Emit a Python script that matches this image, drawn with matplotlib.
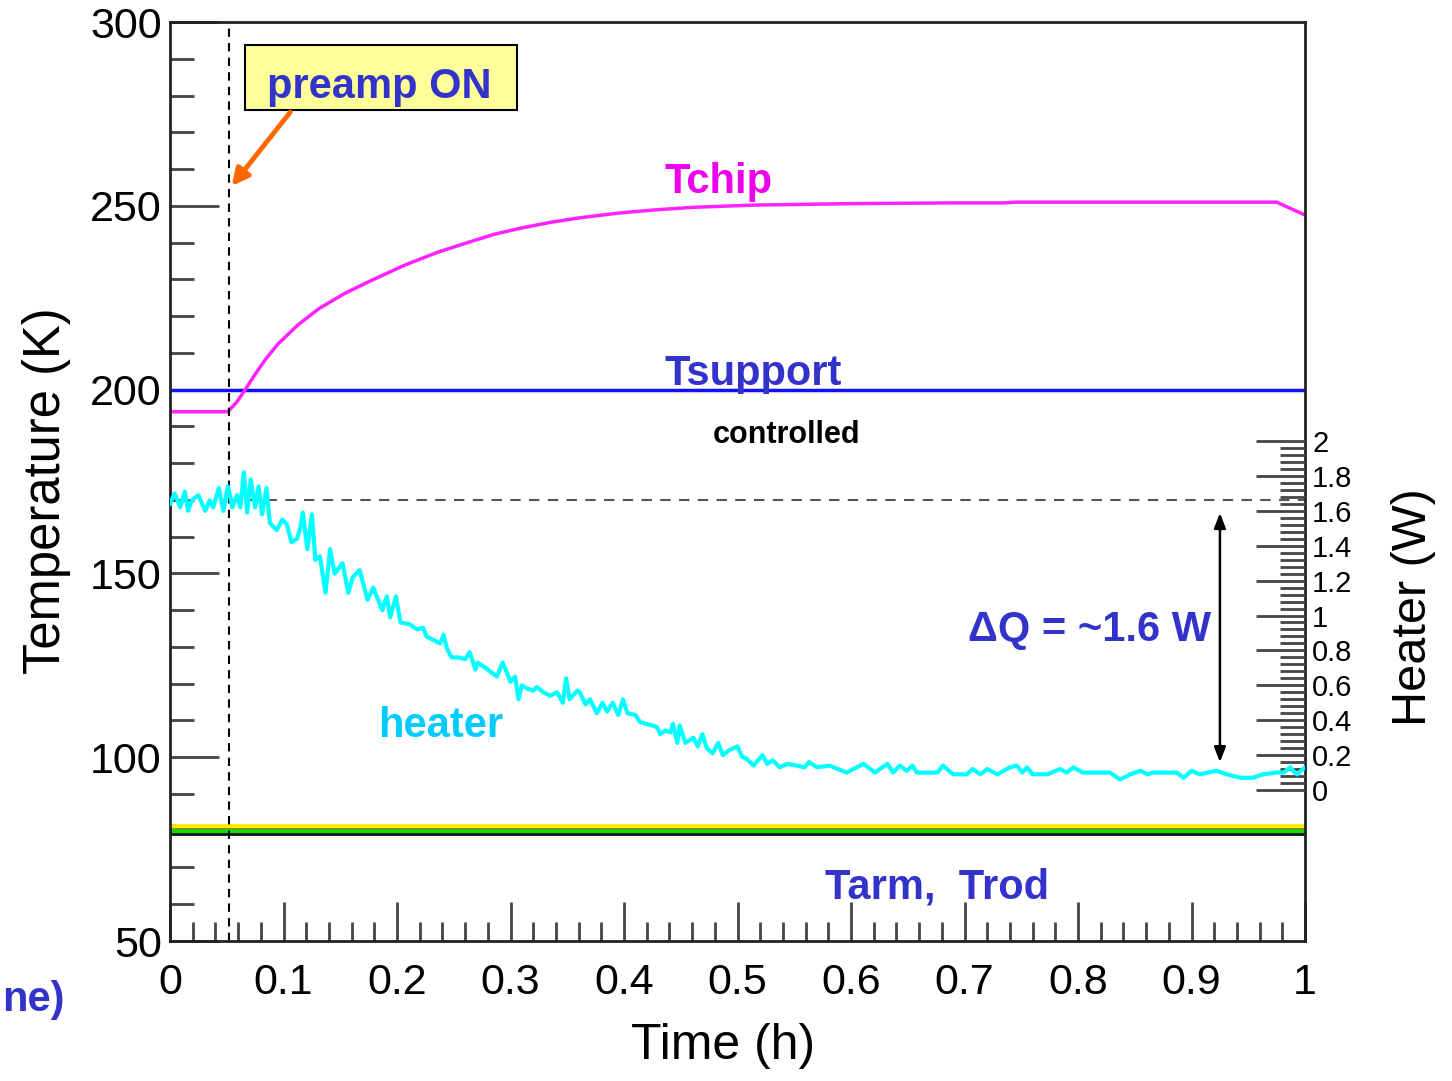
import matplotlib
matplotlib.use("Agg")
import matplotlib.pyplot as plt
from matplotlib.patches import Rectangle
from matplotlib.ticker import MultipleLocator, FixedLocator, FuncFormatter

plt.rcParams["font.family"] = ["Liberation Sans", "DejaVu Sans"]

# --- data ---
# Tchip (K)
tchip_t = [0.0, 0.051, 0.059, 0.066, 0.075, 0.084, 0.095, 0.113, 0.131, 0.154,
           0.178, 0.207, 0.236, 0.260, 0.286, 0.310, 0.335, 0.360, 0.394, 0.427,
           0.461, 0.514, 0.600, 0.690, 0.735, 0.745, 0.850, 0.975, 1.0]
tchip_k = [194.0, 194.0, 196.7, 199.9, 204.2, 208.2, 212.4, 217.7, 222.0, 226.2,
           229.8, 233.9, 237.4, 239.8, 242.3, 244.0, 245.5, 246.7, 248.0, 248.9,
           249.6, 250.2, 250.6, 250.8, 250.8, 251.0, 251.0, 251.0, 247.5]

# Tsupport (K), controlled
tsup_t = [0.0, 1.0]
tsup_k = [200.0, 200.0]

# Tarm / Trod (K)
tarm_t = [0.0, 1.0]
tarm_yellow = [81.2, 81.2]
tarm_red = [80.4, 80.4]
trod_green = [79.8, 79.8]
trod_black = [79.2, 79.2]

# heater power (W)
heater_t = [0.0, 0.004, 0.009, 0.013, 0.016, 0.019, 0.025, 0.031, 0.035, 0.038,
            0.043, 0.047, 0.051, 0.055, 0.059, 0.062, 0.065, 0.068, 0.071, 0.075,
            0.078, 0.081, 0.085, 0.088, 0.094, 0.099, 0.103, 0.107, 0.112, 0.115,
            0.117, 0.121, 0.125, 0.128, 0.132, 0.137, 0.141, 0.145, 0.152, 0.157,
            0.161, 0.167, 0.174, 0.179, 0.187, 0.191, 0.194, 0.199, 0.203, 0.211,
            0.218, 0.223, 0.226, 0.235, 0.238, 0.241, 0.244, 0.248, 0.254, 0.260,
            0.264, 0.269, 0.271, 0.278, 0.284, 0.288, 0.293, 0.297, 0.300, 0.304,
            0.307, 0.310, 0.315, 0.320, 0.323, 0.329, 0.335, 0.341, 0.346, 0.349,
            0.352, 0.359, 0.361, 0.366, 0.370, 0.376, 0.381, 0.385, 0.390, 0.395,
            0.399, 0.403, 0.410, 0.414, 0.419, 0.425, 0.429, 0.432, 0.436, 0.441,
            0.443, 0.447, 0.449, 0.454, 0.461, 0.465, 0.469, 0.473, 0.478, 0.483,
            0.487, 0.493, 0.500, 0.504, 0.508, 0.514, 0.522, 0.526, 0.531, 0.537,
            0.544, 0.552, 0.559, 0.563, 0.570, 0.581, 0.596, 0.611, 0.621, 0.632,
            0.637, 0.643, 0.649, 0.654, 0.658, 0.667, 0.676, 0.681, 0.690, 0.702,
            0.707, 0.714, 0.720, 0.729, 0.740, 0.746, 0.751, 0.755, 0.760, 0.773,
            0.784, 0.790, 0.796, 0.804, 0.819, 0.828, 0.837, 0.846, 0.855, 0.861,
            0.866, 0.878, 0.887, 0.893, 0.900, 0.907, 0.914, 0.922, 0.931, 0.943,
            0.954, 0.963, 0.975, 0.981, 0.987, 0.991, 0.993, 1.0]
heater_w = [1.64, 1.70, 1.62, 1.71, 1.60, 1.66, 1.69, 1.60, 1.66, 1.62,
            1.73, 1.60, 1.74, 1.62, 1.69, 1.62, 1.82, 1.59, 1.78, 1.62,
            1.74, 1.58, 1.73, 1.53, 1.49, 1.55, 1.52, 1.42, 1.44, 1.51,
            1.59, 1.38, 1.58, 1.32, 1.34, 1.13, 1.38, 1.24, 1.30, 1.13,
            1.22, 1.26, 1.09, 1.16, 1.03, 1.11, 0.99, 1.11, 0.96, 0.95,
            0.92, 0.93, 0.88, 0.85, 0.84, 0.89, 0.81, 0.76, 0.76, 0.75,
            0.79, 0.69, 0.73, 0.70, 0.67, 0.65, 0.73, 0.67, 0.62, 0.65,
            0.52, 0.60, 0.58, 0.57, 0.59, 0.56, 0.54, 0.56, 0.50, 0.64,
            0.52, 0.57, 0.56, 0.49, 0.52, 0.44, 0.50, 0.45, 0.50, 0.43,
            0.52, 0.44, 0.43, 0.39, 0.38, 0.37, 0.36, 0.32, 0.34, 0.33,
            0.38, 0.27, 0.37, 0.27, 0.30, 0.25, 0.32, 0.24, 0.21, 0.27,
            0.20, 0.23, 0.25, 0.19, 0.18, 0.14, 0.20, 0.15, 0.17, 0.13,
            0.15, 0.14, 0.13, 0.16, 0.13, 0.14, 0.10, 0.15, 0.10, 0.15,
            0.10, 0.14, 0.11, 0.14, 0.10, 0.10, 0.10, 0.14, 0.09, 0.09,
            0.12, 0.09, 0.12, 0.09, 0.13, 0.14, 0.10, 0.13, 0.09, 0.09,
            0.12, 0.10, 0.13, 0.10, 0.10, 0.10, 0.06, 0.09, 0.11, 0.09,
            0.10, 0.10, 0.10, 0.07, 0.11, 0.09, 0.10, 0.11, 0.09, 0.07,
            0.07, 0.09, 0.10, 0.10, 0.13, 0.10, 0.09, 0.13]

heater_ticks = [0, 0.2, 0.4, 0.6, 0.8, 1, 1.2, 1.4, 1.6, 1.8, 2]
preamp_on_t = 0.052
heater_ref_k = 170.0

BLUE = "#3333cc"
TICKC = "#444444"

fig = plt.figure(figsize=(14.52, 10.81), dpi=100)
ax = fig.add_axes([0.1171, 0.1295, 0.7817, 0.8501])

ax.plot(tarm_t, tarm_yellow, color="#ffee00", lw=3)
ax.plot(tarm_t, tarm_red, color="#ff3300", lw=2)
ax.plot(tarm_t, trod_green, color="#00dd00", lw=3)
ax.plot(tarm_t, trod_black, color="#111111", lw=2)
ax.plot(tsup_t, tsup_k, color="#1010ff", lw=2.5)
ax.plot(tchip_t, tchip_k, color="#ff22ff", lw=2.5)

ax.set_xlim(0, 1)
ax.set_ylim(50, 300)
ax.xaxis.set_major_locator(MultipleLocator(0.1))
ax.xaxis.set_minor_locator(MultipleLocator(0.02))
ax.yaxis.set_major_locator(MultipleLocator(50))
ax.yaxis.set_minor_locator(MultipleLocator(10))
ax.xaxis.set_major_formatter(FuncFormatter(lambda v, p: f"{v:g}"))
ax.tick_params(axis="both", which="both", direction="in", color=TICKC, width=2)
ax.tick_params(axis="x", which="major", length=28, labelsize=31, pad=16)
ax.tick_params(axis="x", which="minor", length=14)
ax.tick_params(axis="y", which="major", length=35, labelsize=31, pad=6)
ax.tick_params(axis="y", which="minor", length=17)
ax.tick_params(axis="y", which="both", right=False)
for sp in ax.spines.values():
    sp.set_linewidth(2)
    sp.set_color("#222222")

ax.set_xlabel("Time (h)", fontsize=36, labelpad=14, x=0.487)
ax.set_ylabel("Temperature (K)", fontsize=36.5, labelpad=14, y=0.49)

# vertical marker and reference line
ax.plot([preamp_on_t, preamp_on_t], [50, 298.4], color="black", lw=1.5, ls=(0, (4, 3)))
ax.plot([preamp_on_t, 1.0], [heater_ref_k, heater_ref_k], color="#555555", lw=1.5,
        ls=(0, (5, 4)))

# heater on the right axis
ax2 = ax.twinx()
ax2.set_ylim(-0.8653, 4.401)
ax2.plot(heater_t, heater_w, color="#00ffff", lw=3)
ax2.yaxis.set_major_locator(FixedLocator(heater_ticks))
ax2.yaxis.set_minor_locator(FixedLocator([i * 0.04 for i in range(51)]))
ax2.yaxis.set_major_formatter(FuncFormatter(lambda v, p: f"{v:g}"))
ax2.tick_params(axis="y", which="both", direction="in", color=TICKC, width=2)
ax2.tick_params(axis="y", which="major", length=35, labelsize=21, pad=5)
ax2.tick_params(axis="y", which="minor", length=18)
for sp in ax2.spines.values():
    sp.set_visible(False)
fig.text(1414 / 1452, 1 - 607 / 1081, "Heater (W)", fontsize=35, rotation=90,
         ha="center", va="center")

# annotations
ax.add_patch(Rectangle((0.066, 276.1), 0.24, 17.6, facecolor="#ffff99",
                       edgecolor="black", lw=1.5, zorder=5))
ax.text(0.184, 279.3, "preamp ON", color=BLUE, fontsize=30, fontweight="bold",
        ha="center", va="baseline", zorder=6)
ax.annotate("", xy=(0.0529, 254.8), xytext=(0.1075, 276.1),
            arrowprops=dict(arrowstyle="-|>,head_width=0.5,head_length=1.0",
                            color="#ff6600", lw=3.5), zorder=6)

ax.text(0.436, 253.5, "Tchip", color="#ee00ee", fontsize=30, fontweight="bold",
        ha="left", va="baseline")
ax.text(0.436, 201.3, "Tsupport", color=BLUE, fontsize=30, fontweight="bold",
        ha="left", va="baseline")
ax.text(0.478, 185.5, "controlled", color="black", fontsize=22, fontweight="bold",
        ha="left", va="baseline")
ax.text(0.183, 105.5, "heater", color="#00ccff", fontsize=30, fontweight="bold",
        ha="left", va="baseline")
ax.text(0.703, 131.6, "\u0394Q = ~1.6 W", color=BLUE, fontsize=30, fontweight="bold",
        ha="left", va="baseline")
ax.text(0.577, 61.7, "Tarm,  Trod", color=BLUE, fontsize=30, fontweight="bold",
        ha="left", va="baseline")
ax.annotate("", xy=(0.925, 97.9), xytext=(0.925, 167.2),
            arrowprops=dict(arrowstyle="<|-|>,head_width=0.35,head_length=0.9",
                            color="black", lw=1.8))

fig.text(65 / 1452, 1 - 1000 / 1081, "ne)", color=BLUE, fontsize=30,
         fontweight="bold", ha="right", va="center")

fig.savefig("out.png", dpi=100)
